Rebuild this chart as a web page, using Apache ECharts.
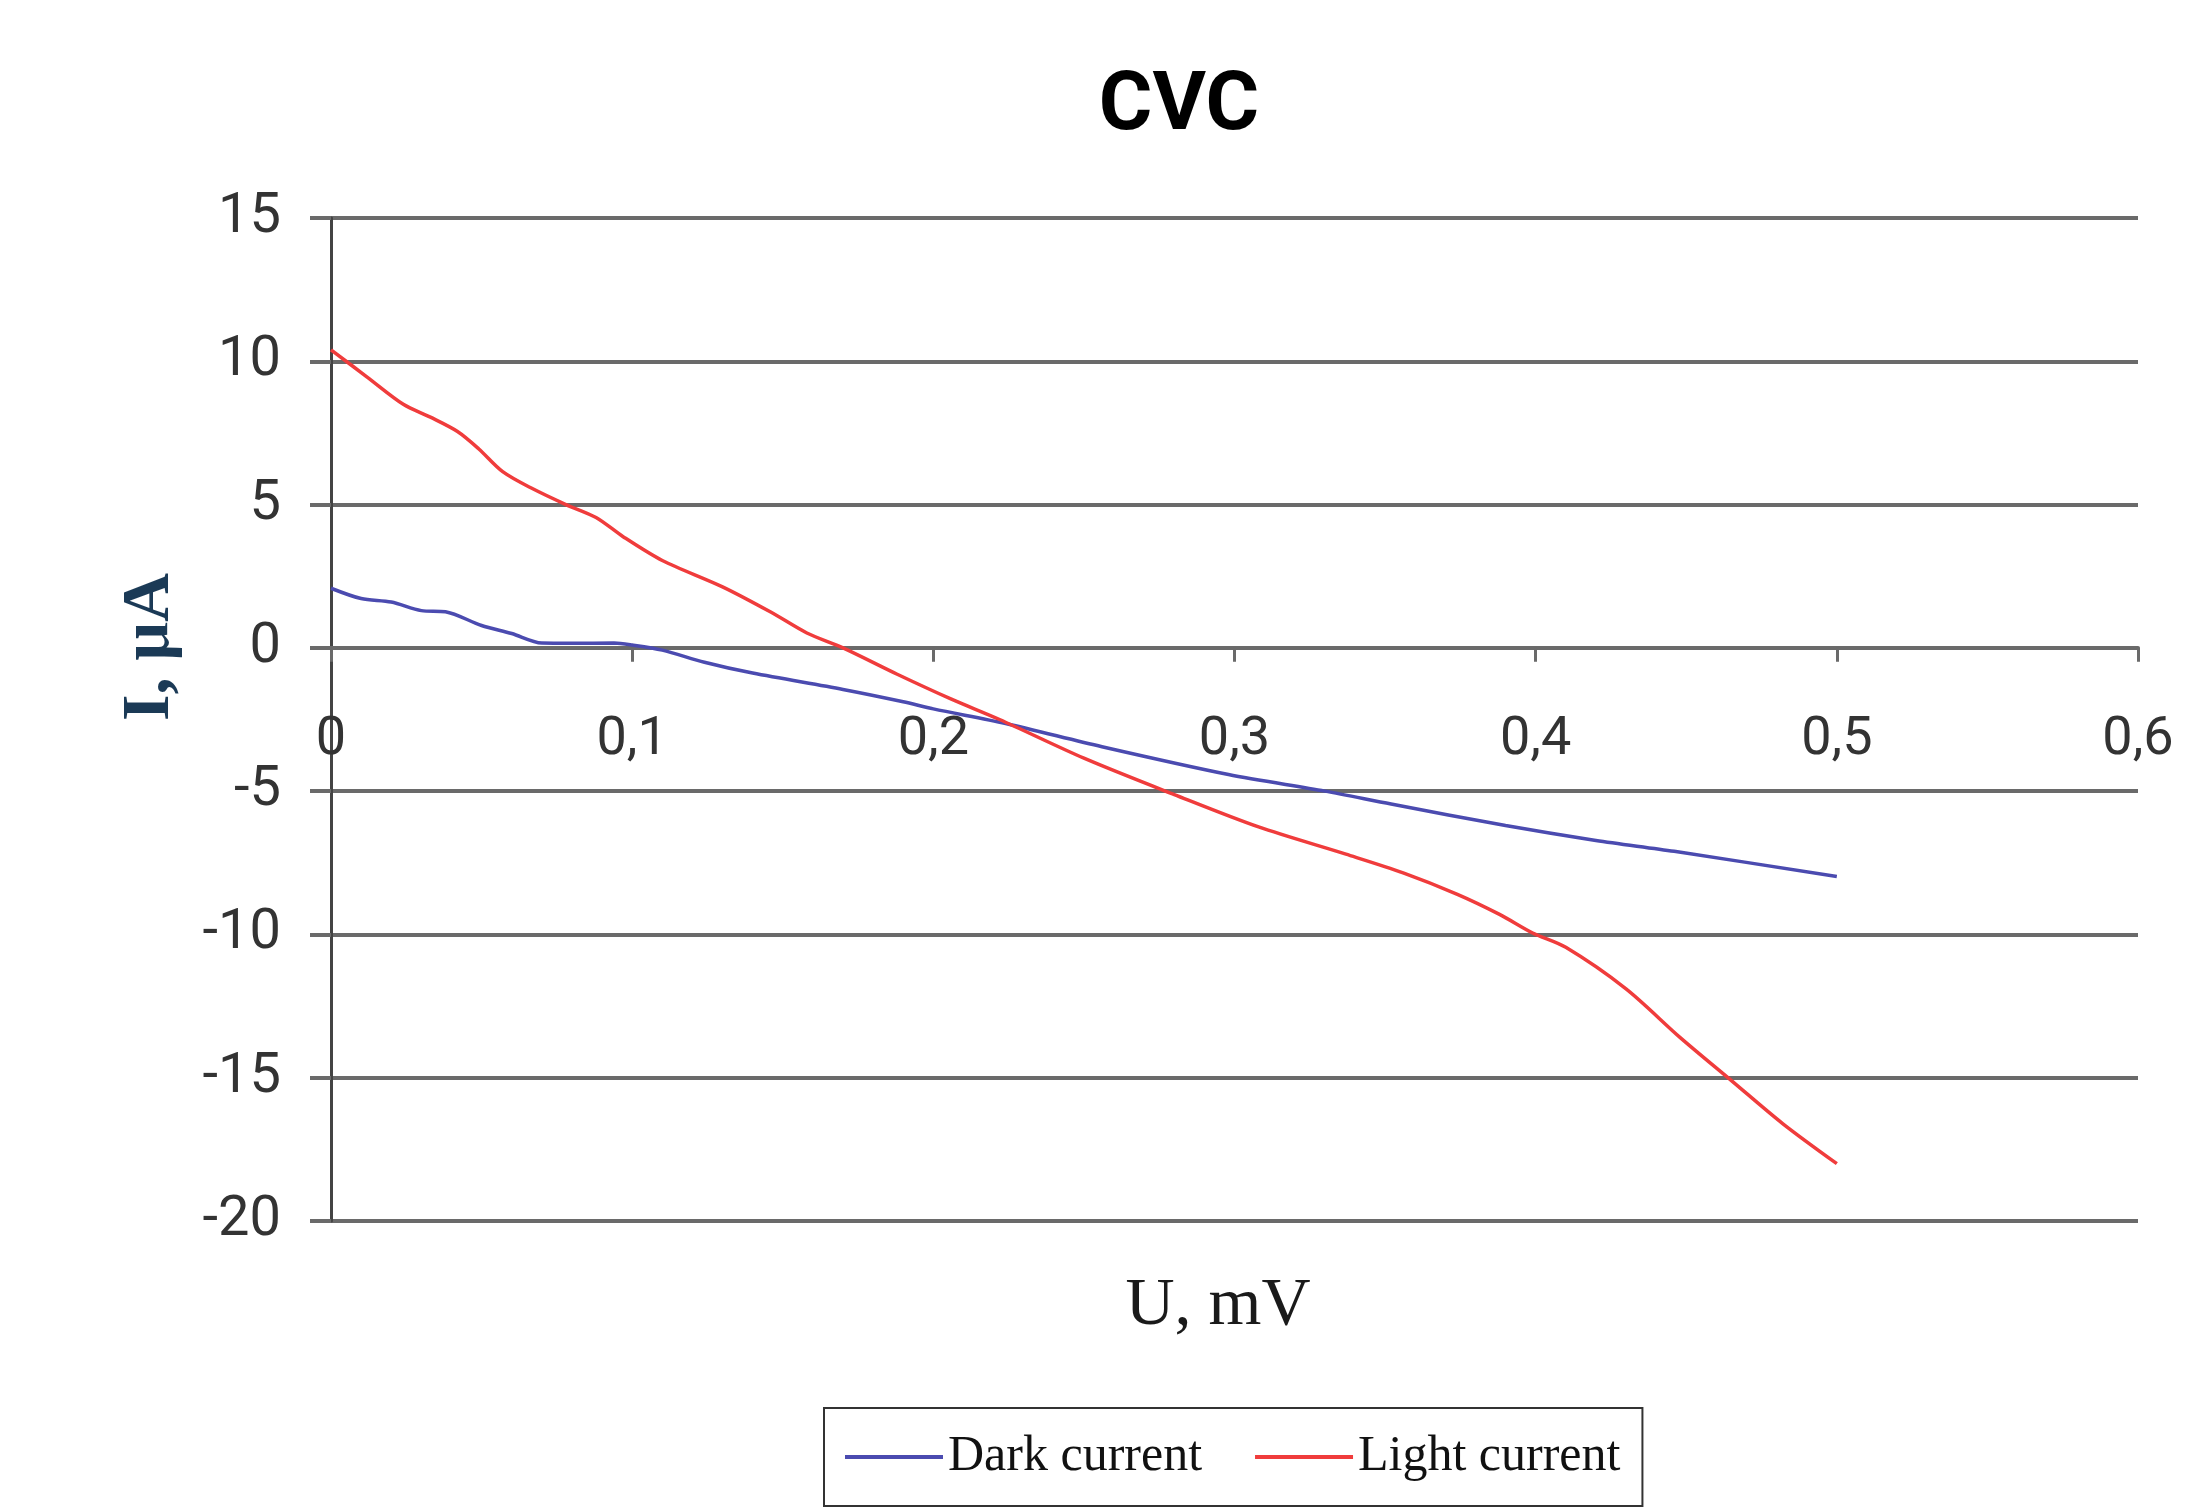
<!DOCTYPE html>
<html>
<head>
<meta charset="utf-8">
<script src="https://cdn.jsdelivr.net/npm/echarts@6/dist/echarts.min.js"></script>
<style>
html,body{margin:0;padding:0;background:#fff;}
#chart{width:2191px;height:1509px;}
</style>
</head>
<body>
<div id="chart"></div>
<script>
// ---- data ----
const titleText = 'CVC';
const xName = 'U, mV';
const yName = 'I, μA';
const seriesNames = ['Dark current', 'Light current'];

const darkU = [0, 0.01, 0.02, 0.03, 0.038, 0.05, 0.06, 0.07, 0.08, 0.094, 0.1, 0.11, 0.124, 0.14, 0.17, 0.19, 0.2, 0.224, 0.256, 0.298, 0.33, 0.352, 0.39, 0.42, 0.446, 0.5];
const darkI = [2.08, 1.72, 1.6, 1.3, 1.26, 0.78, 0.5, 0.17, 0.16, 0.17, 0.1, -0.08, -0.5, -0.88, -1.45, -1.88, -2.13, -2.64, -3.45, -4.42, -5.0, -5.45, -6.2, -6.72, -7.1, -7.98];

const lightU = [0, 0.012, 0.024, 0.033, 0.042, 0.049, 0.057, 0.067, 0.078, 0.088, 0.097, 0.11, 0.13, 0.146, 0.158, 0.17, 0.188, 0.206, 0.222, 0.25, 0.28, 0.308, 0.337, 0.356, 0.374, 0.388, 0.399, 0.41, 0.43, 0.448, 0.465, 0.482, 0.5];
const lightI = [10.4, 9.45, 8.5, 8.05, 7.55, 6.95, 6.15, 5.55, 5.0, 4.55, 3.88, 3.05, 2.13, 1.25, 0.52, 0.0, -0.92, -1.79, -2.5, -3.85, -5.12, -6.25, -7.2, -7.85, -8.6, -9.3, -9.95, -10.45, -11.9, -13.6, -15.1, -16.6, -18.0];

const xTicks = [0, 0.1, 0.2, 0.3, 0.4, 0.5, 0.6];
const yTicks = [-20, -15, -10, -5, 0, 5, 10, 15];

const pairs = (xs, ys) => xs.map((x, i) => [x, ys[i]]);

// layout
const gridTop = 218, gridBottom = 288, chartH = 1509;
const gridH = chartH - gridTop - gridBottom;
const yMin = yTicks[0], yMax = yTicks[yTicks.length - 1];
// shift the bottom x axis up so that it sits on the I = 0 line
const zeroOffset = -gridH * (0 - yMin) / (yMax - yMin);

const chart = echarts.init(document.getElementById('chart'));
const gridColor = '#6a6a6a';
const blue = '#4b4bb0';
const red = '#f03c3c';
chart.setOption({
  backgroundColor: '#ffffff',
  animation: false,
  title: {
    text: titleText,
    left: 1174,
    top: 62,
    textAlign: 'center',
    textStyle: { fontFamily: 'Roboto', fontWeight: 'bold', fontSize: 82, color: '#000' }
  },
  grid: { left: 331, right: 53, top: gridTop, bottom: gridBottom, containLabel: false },
  xAxis: {
    type: 'value',
    position: 'bottom',
    offset: zeroOffset,
    min: xTicks[0],
    max: xTicks[xTicks.length - 1],
    interval: 0.1,
    axisLine: { show: true, onZero: false, lineStyle: { color: gridColor, width: 4 } },
    axisTick: { show: true, inside: false, length: 14, lineStyle: { color: gridColor, width: 3 } },
    axisLabel: {
      margin: 66,
      fontFamily: 'Roboto',
      fontSize: 54,
      color: '#333',
      formatter: v => v === 0 ? '0' : String(+v.toFixed(1)).replace('.', ',')
    },
    splitLine: { show: false }
  },
  yAxis: {
    type: 'value',
    min: yMin,
    max: yMax,
    interval: 5,
    axisLine: { show: true, lineStyle: { color: '#444', width: 3 } },
    axisTick: { show: true, inside: false, length: 21, lineStyle: { color: gridColor, width: 4 } },
    axisLabel: { margin: 50, fontFamily: 'Roboto', fontSize: 56, color: '#333' },
    splitLine: { show: true, lineStyle: { color: gridColor, width: 4 } }
  },
  legend: {
    data: seriesNames.map(n => ({ name: n, icon: 'rect' })),
    left: 824,
    top: 1408,
    orient: 'horizontal',
    borderColor: '#333',
    borderWidth: 2,
    padding: [24, 22, 24, 21],
    itemWidth: 98,
    itemHeight: 4,
    itemGap: 53,
    textStyle: { fontFamily: 'Liberation Serif', fontSize: 50, color: '#111' }
  },
  graphic: [
    {
      type: 'text',
      x: 150, y: 647,
      rotation: Math.PI / 2,
      style: {
        text: yName,
        fontFamily: 'Liberation Serif',
        fontWeight: 'bold',
        fontSize: 68,
        fill: '#1b3a56',
        textAlign: 'center',
        textVerticalAlign: 'middle'
      }
    },
    {
      type: 'text',
      x: 1218, y: 1306,
      style: {
        text: xName,
        fontFamily: 'Liberation Serif',
        fontSize: 68,
        fill: '#1a1a1a',
        textAlign: 'center',
        textVerticalAlign: 'middle'
      }
    }
  ],
  series: [
    {
      name: seriesNames[0],
      type: 'line',
      data: pairs(darkU, darkI),
      symbol: 'none',
      smooth: 0.3,
      lineStyle: { color: blue, width: 3.5 },
      itemStyle: { color: blue }
    },
    {
      name: seriesNames[1],
      type: 'line',
      data: pairs(lightU, lightI),
      symbol: 'none',
      smooth: 0.3,
      lineStyle: { color: red, width: 3.5 },
      itemStyle: { color: red }
    }
  ]
});
</script>
</body>
</html>
